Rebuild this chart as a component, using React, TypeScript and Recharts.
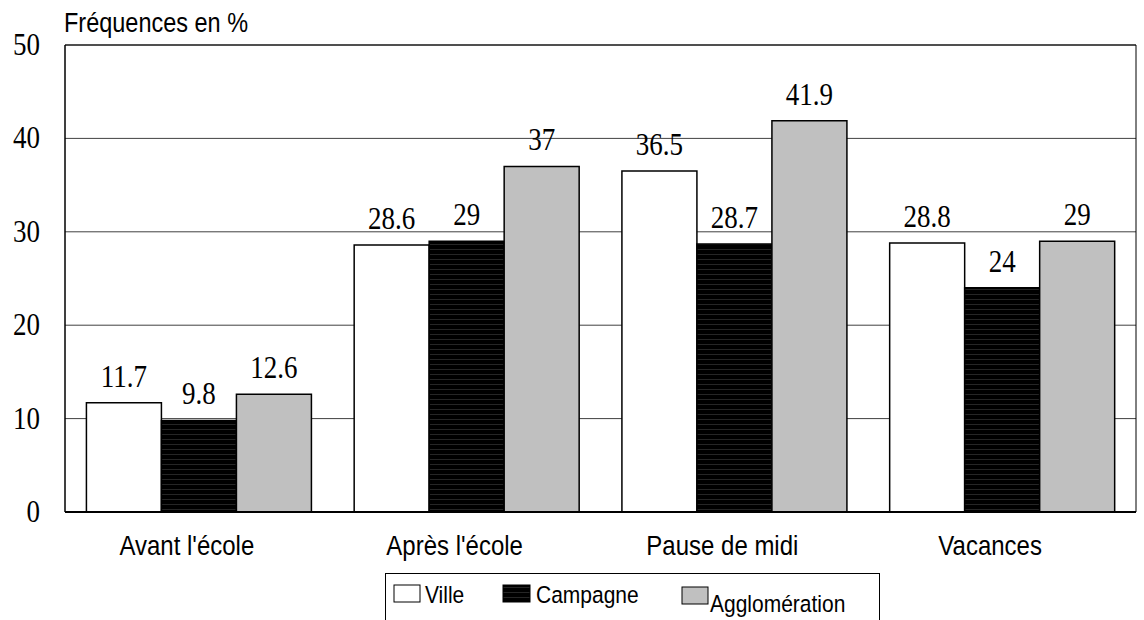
import React from "react";
import {
  BarChart,
  Bar,
  XAxis,
  YAxis,
  CartesianGrid,
  Legend,
  LabelList,
  ReferenceArea,
} from "recharts";

const categories = ["Avant l'école", "Après l'école", "Pause de midi", "Vacances"];
const ville = [11.7, 28.6, 36.5, 28.8];
const campagne = [9.8, 29, 28.7, 24];
const agglomeration = [12.6, 37, 41.9, 29];
const yTicks = [0, 10, 20, 30, 40, 50];

const data = categories.map((cat, i) => ({
  cat,
  ville: ville[i],
  campagne: campagne[i],
  agglomeration: agglomeration[i],
}));

const SANS = "'Liberation Sans', Arial, sans-serif";
const SERIF = "'Liberation Serif', 'Times New Roman', serif";
// the original picture is a bit squashed horizontally, so text looks taller
const STRETCH = 1.18;

function Tall({ x, y, anchor = "start", family, size, children }: any) {
  return (
    <text
      transform={`translate(${x},${y}) scale(1,${STRETCH})`}
      textAnchor={anchor}
      fontFamily={family}
      fontSize={size}
      fill="#000"
    >
      {children}
    </text>
  );
}

function XTick(props: any) {
  const { x, y, payload } = props;
  return (
    <Tall x={x - 12} y={y + 17} anchor="middle" family={SANS} size={24}>
      {payload.value}
    </Tall>
  );
}

function YTick(props: any) {
  const { x, y, payload } = props;
  return (
    <Tall x={x} y={y + 10} anchor="end" family={SERIF} size={27}>
      {payload.value}
    </Tall>
  );
}

function ValueLabel(props: any) {
  const vb = props.viewBox || {};
  const x = props.x ?? vb.x;
  const y = props.y ?? vb.y;
  const w = props.width ?? vb.width;
  return (
    <Tall x={x + w / 2} y={y - 16} anchor="middle" family={SERIF} size={27}>
      {props.value}
    </Tall>
  );
}

function LegendBox() {
  return (
    <svg width={495} height={50} style={{ display: "block" }}>
      <rect x={0.5} y={0.5} width={494} height={60} fill="#fff" stroke="#000" />
      <rect x={9} y={12} width={26} height={17} fill="#fff" stroke="#000" />
      <Tall x={40} y={30} family={SANS} size={21}>Ville</Tall>
      <rect x={118} y={12} width={27} height={17} fill="url(#stripes)" stroke="#000" />
      <Tall x={151} y={30} family={SANS} size={21}>Campagne</Tall>
      <rect x={297} y={14} width={26} height={17} fill="#c0c0c0" stroke="#000" />
      <Tall x={325} y={39} family={SANS} size={21}>Agglomération</Tall>
    </svg>
  );
}

export default function App() {
  return (
    <div style={{ position: "absolute", left: 0, top: 0, width: 1144, height: 620, background: "#fff" }}>
      <svg width={300} height={40} style={{ position: "absolute", left: 0, top: 0 }}>
        <Tall x={64} y={32} family={SANS} size={23.5}>Fréquences en %</Tall>
      </svg>
      <BarChart
        width={1144}
        height={620}
        data={data}
        margin={{ top: 45, right: 8, left: 0, bottom: 48 }}
        barCategoryGap="8%"
        barGap={0}
      >
        <defs>
          <pattern id="stripes" width={6} height={5} patternUnits="userSpaceOnUse">
            <rect width={6} height={5} fill="#000" />
            <rect y={4} width={6} height={1} fill="#262626" />
          </pattern>
        </defs>
        <CartesianGrid vertical={false} stroke="#000" strokeOpacity={0.75} />
        <XAxis
          dataKey="cat"
          height={60}
          axisLine={{ stroke: "#000", strokeWidth: 2 }}
          tickLine={false}
          tickSize={0}
          tickMargin={26}
          tick={<XTick />}
        />
        <YAxis
          width={65}
          domain={[0, 50]}
          ticks={yTicks}
          axisLine={{ stroke: "#000", strokeWidth: 1 }}
          tickLine={false}
          tickSize={0}
          tickMargin={25}
          tick={<YTick />}
        />
        <ReferenceArea y1={0} y2={50} fill="none" stroke="#000" strokeWidth={1} ifOverflow="visible" />
        <Legend
          layout="horizontal"
          verticalAlign="middle"
          align="center"
          wrapperStyle={{ left: 385, top: 573, width: 495, height: 47, overflow: "hidden" }}
          content={() => <LegendBox />}
        />
        <Bar dataKey="ville" name="Ville" fill="#fff" stroke="#000" strokeWidth={1.5} isAnimationActive={false}>
          <LabelList dataKey="ville" position="top" content={ValueLabel} />
        </Bar>
        <Bar dataKey="campagne" name="Campagne" fill="url(#stripes)" stroke="#000" strokeWidth={1.5} isAnimationActive={false}>
          <LabelList dataKey="campagne" position="top" content={ValueLabel} />
        </Bar>
        <Bar dataKey="agglomeration" name="Agglomération" fill="#c0c0c0" stroke="#000" strokeWidth={1.5} isAnimationActive={false}>
          <LabelList dataKey="agglomeration" position="top" content={ValueLabel} />
        </Bar>
      </BarChart>
    </div>
  );
}
